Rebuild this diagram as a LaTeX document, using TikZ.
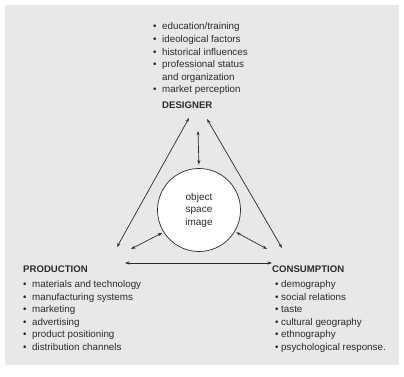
\documentclass[tikz,border=0pt]{standalone}
\usepackage{fontspec}
\setmainfont{Liberation Sans}
\usetikzlibrary{arrows.meta}
\definecolor{bg}{HTML}{E8E8E8}
\definecolor{ink}{HTML}{2B2B2B}
\begin{document}
\begin{tikzpicture}[x=1pt,y=-1pt,
  txt/.style={inner sep=0pt, anchor=base west, text=ink, font=\fontsize{9.8}{12.6}\selectfont},
  head/.style={inner sep=0pt, anchor=base west, text=ink, font=\fontsize{9.6}{12.6}\selectfont\bfseries},
  link/.style={draw=ink, line width=0.7pt, {Stealth[length=4.5pt,width=3pt]}-{Stealth[length=4.5pt,width=3pt]}},
  hub/.style={circle, draw=ink, fill=white, line width=0.7pt, minimum size=83pt, inner sep=0pt, align=center, text=ink, font=\fontsize{10}{12.5}\selectfont}]
\useasboundingbox (0,0) rectangle (404,377);
\fill[white] (0,0) rectangle (404,377);
\fill[bg] (5,5) rectangle (399,365);

% designer
\node[txt] (dlist) at (153,30) {\begin{tabular}[t]{@{}p{9pt}@{}l@{}}
\textbullet & education/training\\
\textbullet & ideological factors\\
\textbullet & historical influences\\
\textbullet & professional status\\
 & and organization\\
\textbullet & market perception
\end{tabular}};
\node[head] (designer) at (162,109) {DESIGNER};

% production
\node[txt] (plist) at (23,272.5) {\begin{tabular}[t]{@{}p{9pt}@{}l@{}}
\multicolumn{2}{@{}l@{}}{\bfseries\fontsize{9.6}{12.6}\selectfont PRODUCTION}\\[2.4pt]
\textbullet & materials and technology\\
\textbullet & manufacturing systems\\
\textbullet & marketing\\
\textbullet & advertising\\
\textbullet & product positioning\\
\textbullet & distribution channels
\end{tabular}};

% consumption
\node[txt] (clist) at (272,272.5) {\begin{tabular}[t]{@{}p{9pt}@{}l@{}}
\multicolumn{2}{@{}l@{}}{\bfseries\fontsize{9.6}{12.6}\selectfont CONSUMPTION}\\[2.4pt]
\hspace*{3pt}\textbullet & demography\\
\hspace*{3pt}\textbullet & social relations\\
\hspace*{3pt}\textbullet & taste\\
\hspace*{3pt}\textbullet & cultural geography\\
\hspace*{3pt}\textbullet & ethnography\\
\hspace*{3pt}\textbullet & psychological response.
\end{tabular}};

% centre
\node[hub] (core) at (199,210) {object\\space\\image};

% arrow ends
\coordinate (dl) at (189,118);
\coordinate (pt) at (117,247);
\coordinate (dr) at (207,119);
\coordinate (ct) at (282,248);
\coordinate (dv) at (198,131);
\coordinate (pl) at (131,249);
\coordinate (cr) at (267,249);
\coordinate (ph) at (125,263);
\coordinate (ch) at (272,263);

\draw[link] (pt) -- (dl);
\draw[link] (ct) -- (dr);
\draw[link, shorten >=3.5pt] (dv) -- (core.north);
\draw[link, shorten >=1.5pt] (pl) -- (core.212);
\draw[link, shorten >=1.5pt] (cr) -- (core.329);
\draw[link] (ph) -- (ch);
\end{tikzpicture}
\end{document}
